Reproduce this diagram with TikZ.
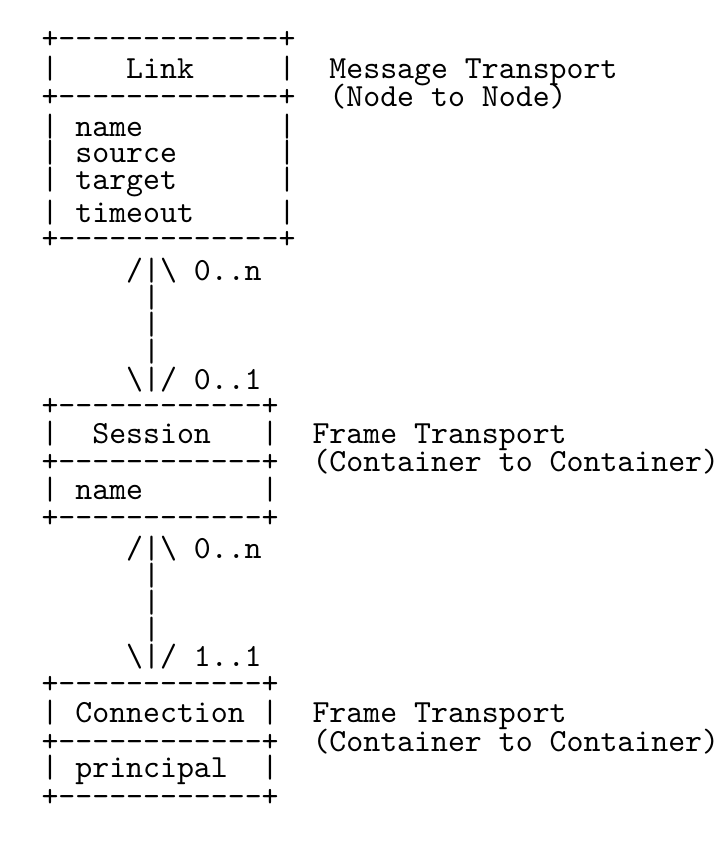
\documentclass[tikz,border=0pt]{standalone}
\usepackage{fontspec}
\usepackage{tikz}
\newfontfamily\asciifont{lmmono10-regular.otf}

\tikzset{
  ascii/.style={anchor=base west, inner sep=0pt, outer sep=0pt,
    font=\asciifont\fontsize{24.2}{28}\selectfont},
}
% a row of dashes between two plus signs
\newcommand\asciirule[1]{+\foreach\k in {1,...,#1}{-\kern0pt}+}

\begin{document}
\begin{tikzpicture}[x=0.75pt, y=-0.75pt]
    \useasboundingbox (0,0) rectangle (728,864);

    % the Link box
    \node[ascii] (linktop)  at (41.5, 48) {\asciirule{13}};
    \node[ascii] (linkhead) at (41.5, 78) {|~~~~Link~~~~~|~~Message~Transport};
    \node[ascii] (linkmid)  at (41.5,106) {\asciirule{13}~~(Node~to~Node)};
    \node[ascii] (linkname) at (41.5,136) {|~name~~~~~~~~|};
    \node[ascii] (linksrc)  at (41.5,162) {|~source~~~~~~|};
    \node[ascii] (linktgt)  at (41.5,189) {|~target~~~~~~|};
    \node[ascii] (linktime) at (41.5,222) {|~timeout~~~~~|};
    \node[ascii] (linkbot)  at (41.5,248) {\asciirule{13}};

    % link to session
    \node[ascii] (ls1) at (41.5,280) {~~~~~/|\textbackslash~0..n};
    \node[ascii] (ls2) at (41.5,307) {~~~~~~|};
    \node[ascii] (ls3) at (41.5,334) {~~~~~~|};
    \node[ascii] (ls4) at (41.5,361) {~~~~~~|};
    \node[ascii] (ls5) at (41.5,389) {~~~~~\textbackslash|/~0..1};

    % the Session box
    \node[ascii] (sesstop)  at (41.5,415) {\asciirule{12}};
    \node[ascii] (sesshead) at (41.5,443) {|~~Session~~~|~~Frame~Transport};
    \node[ascii] (sessmid)  at (41.5,471) {\asciirule{12}~~(Container~to~Container)};
    \node[ascii] (sessname) at (41.5,499) {|~name~~~~~~~|};
    \node[ascii] (sessbot)  at (41.5,527) {\asciirule{12}};

    % session to connection
    \node[ascii] (sc1) at (41.5,558) {~~~~~/|\textbackslash~0..n};
    \node[ascii] (sc2) at (41.5,585) {~~~~~~|};
    \node[ascii] (sc3) at (41.5,612) {~~~~~~|};
    \node[ascii] (sc4) at (41.5,639) {~~~~~~|};
    \node[ascii] (sc5) at (41.5,666) {~~~~~\textbackslash|/~1..1};

    % the Connection box
    \node[ascii] (conntop)  at (41.5,693) {\asciirule{12}};
    \node[ascii] (connhead) at (41.5,722) {|~Connection~|~~Frame~Transport};
    \node[ascii] (connmid)  at (41.5,751) {\asciirule{12}~~(Container~to~Container)};
    \node[ascii] (connprin) at (41.5,777) {|~principal~~|};
    \node[ascii] (connbot)  at (41.5,806) {\asciirule{12}};

\end{tikzpicture}
\end{document}
